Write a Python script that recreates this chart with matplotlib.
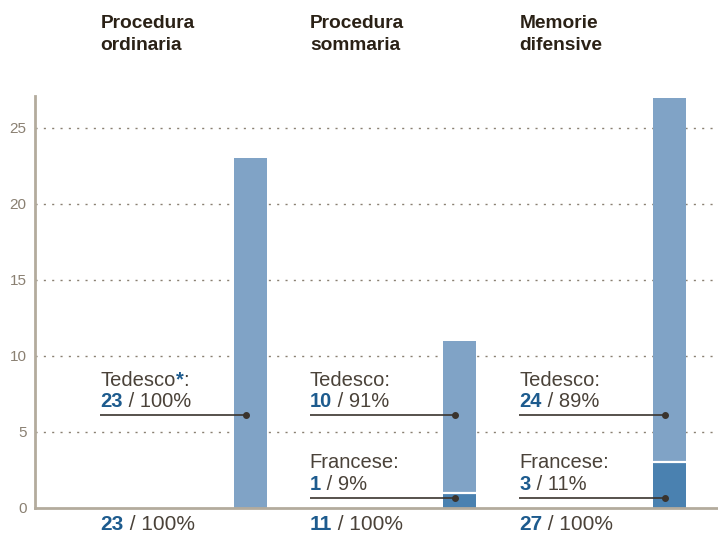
import matplotlib
matplotlib.use("Agg")
import matplotlib.pyplot as plt
import numpy as np

# --- data -------------------------------------------------------------
categories = ["Procedura\nordinaria", "Procedura\nsommaria", "Memorie\ndifensive"]
tedesco = [23, 10, 24]
francese = [0, 1, 3]
tedesco_pct = [100, 91, 89]
francese_pct = [0, 9, 11]
totals = [23, 11, 27]
yticks = [0, 5, 10, 15, 20, 25]

# --- style ------------------------------------------------------------
FONT = "Liberation Sans"
C_LIGHT = "#80a3c6"
C_DARK = "#4a81b0"
C_NUM = "#1d5b8e"
C_TEXT = "#4a4239"
C_TITLE = "#2a2116"
C_AXIS = "#b3ab9d"
C_TICK = "#8a8072"
C_LEADER = "#3a342e"

plt.rcParams["font.family"] = [FONT, "DejaVu Sans"]

W, H, DPI = 718, 535, 100
fig = plt.figure(figsize=(W / DPI, H / DPI), dpi=DPI)

# axes geometry in pixels
ax_left, ax_right = 35, 718
ax_bottom_px, ax_top_px = 507.7, 96
ax = fig.add_axes([ax_left / W, (H - ax_bottom_px) / H,
                   (ax_right - ax_left) / W, (ax_bottom_px - ax_top_px) / H])

x = np.arange(len(categories))
bar_w = 0.1575
ax.set_xlim(-1.0286, 2.2315)
ax.set_ylim(0, 27.1)

# gridlines (dotted) behind bars
for t in yticks[1:]:
    ax.axhline(t, color=C_TICK, lw=1.0, ls=(0, (1.5, 4.5)), zorder=0)

# stacked bars
ax.bar(x, francese, width=bar_w, color=C_DARK, linewidth=0, zorder=2)
ax.bar(x, tedesco, width=bar_w, bottom=francese, color=C_LIGHT, linewidth=0, zorder=2)
for xi, f in zip(x, francese):
    if f > 0:
        ax.hlines(f, xi - bar_w / 2, xi + bar_w / 2, color="white", lw=1.6, zorder=3)

# axes styling
for s in ("top", "right"):
    ax.spines[s].set_visible(False)
for s in ("left", "bottom"):
    ax.spines[s].set_color(C_AXIS)
    ax.spines[s].set_linewidth(2)
ax.set_xticks([])
ax.set_yticks(yticks)
ax.tick_params(axis="y", length=0, pad=6, labelsize=11, labelcolor=C_TICK)

label_dx = -0.717
dot_dx = -0.022
ted_line_y = 6.1
fra_line_y = 0.66
LAB_FS = 14.5


def rich_line(parts, xy, offset, fs, xycoords="data"):
    """Draw consecutive text runs [(text, color, weight), ...] on one baseline."""
    first, c, w = parts[0]
    prev = ax.annotate(first, xy=xy, xycoords=xycoords, xytext=offset,
                       textcoords="offset pixels", ha="left", va="baseline",
                       fontsize=fs, color=c, fontweight=w, annotation_clip=False)
    for txt, c, w in parts[1:]:
        prev = ax.annotate(txt, xy=(1, 0), xycoords=prev, ha="left", va="bottom",
                           fontsize=fs, color=c, fontweight=w, annotation_clip=False)
    return prev


def leader(xi, y, name, value, pct, star=False):
    x0 = xi + label_dx
    xd = xi + dot_dx
    ax.plot([x0, xd], [y, y], color=C_LEADER, lw=1.2, zorder=4, solid_capstyle="butt")
    ax.plot([xd], [y], "o", color=C_LEADER, ms=4, zorder=5)
    if star:
        rich_line([(name, C_TEXT, "normal"), ("*", C_NUM, "bold"), (":", C_TEXT, "normal")],
                  (x0, y), (0, 29.3), LAB_FS)
    else:
        rich_line([(name + ":", C_TEXT, "normal")], (x0, y), (0, 29.3), LAB_FS)
    rich_line([(str(value), C_NUM, "bold"), (f" / {pct}%", C_TEXT, "normal")],
              (x0, y), (0, 7.6), LAB_FS)


for i, xi in enumerate(x):
    leader(xi, ted_line_y, "Tedesco", tedesco[i], tedesco_pct[i], star=(francese[i] == 0))
    if francese[i] > 0:
        leader(xi, fra_line_y, "Francese", francese[i], francese_pct[i])
    # totals under the axis
    rich_line([(str(totals[i]), C_NUM, "bold"), (" / 100%", C_TEXT, "normal")],
              (xi + label_dx, 0), (0, -22), 15)
    # column titles above the plot
    for k, line in enumerate(categories[i].split("\n")):
        ax.annotate(line, xy=(xi + label_dx, 27.1), xycoords="data",
                    xytext=(0, (ax_top_px - 28.3) - k * 21.7), textcoords="offset pixels",
                    ha="left", va="baseline", fontsize=13.8, fontweight="bold",
                    color=C_TITLE, annotation_clip=False)

fig.savefig("out.png", dpi=DPI)
